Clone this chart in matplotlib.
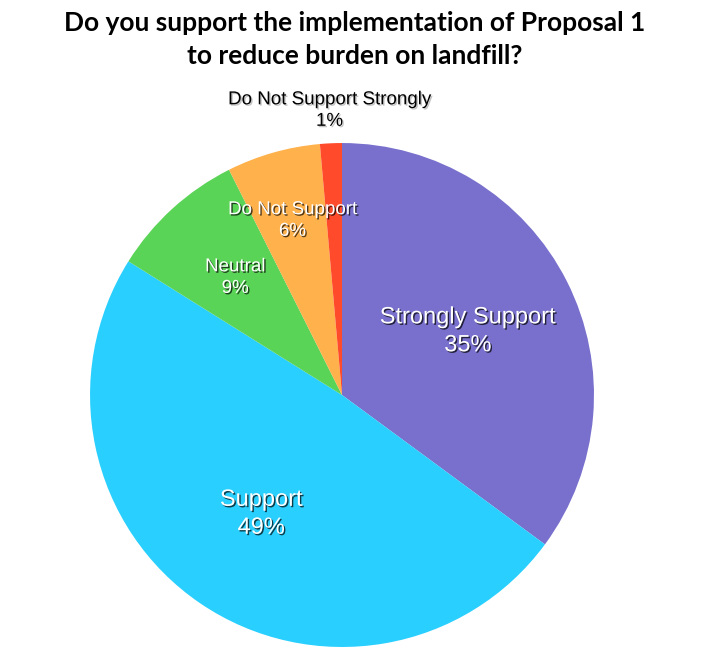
import matplotlib.pyplot as plt
import matplotlib.patheffects as pe
import numpy as np

# survey answers
categories = ['Strongly Support', 'Support', 'Neutral', 'Do Not Support', 'Do Not Support Strongly']
shares = [35.1, 48.8, 8.7, 6.0, 1.4]
pct_labels = ['35%', '49%', '9%', '6%', '1%']

colors = ['#7870CC', '#29CFFF', '#5AD457', '#FFB14B', '#FF4A2B']
label_radius = [0.56, 0.57, 0.63, 0.72, 1.13]
label_size = [17, 17, 13.5, 13.5, 13.5]

fig = plt.figure(figsize=(7.14, 6.61), dpi=100)
ax = fig.add_axes([0.479 - 0.353, 0.4024 - 0.3812, 0.706, 0.7624])

wedges, _ = ax.pie(shares, colors=colors, startangle=90, counterclock=False,
                   radius=1, wedgeprops=dict(linewidth=0))
ax.set_xlim(-1, 1)
ax.set_ylim(-1, 1)
ax.set_aspect('equal')
ax.axis('off')

for w, name, pct, r, fs in zip(wedges, categories, pct_labels, label_radius, label_size):
    mid = np.deg2rad((w.theta1 + w.theta2) / 2)
    x, y = r * np.cos(mid), r * np.sin(mid)
    if r > 1:
        col = 'black'
        fx = [pe.withSimplePatchShadow(offset=(1, -1), shadow_rgbFace='#888888', alpha=0.5)]
    else:
        col = 'white'
        fx = [pe.withSimplePatchShadow(offset=(1, -1), shadow_rgbFace='black', alpha=0.7)]
    ax.text(x, y, name + '\n' + pct, ha='center', va='center', color=col,
            fontsize=fs, family='Liberation Sans', linespacing=1.35,
            path_effects=fx, clip_on=False)

fig.text(0.497, 0.940, 'Do you support the implementation of Proposal 1\nto reduce burden on landfill?',
         ha='center', va='center', fontsize=19, fontweight='bold', family='Lato', linespacing=1.45)

fig.savefig('out.png', dpi=100)
